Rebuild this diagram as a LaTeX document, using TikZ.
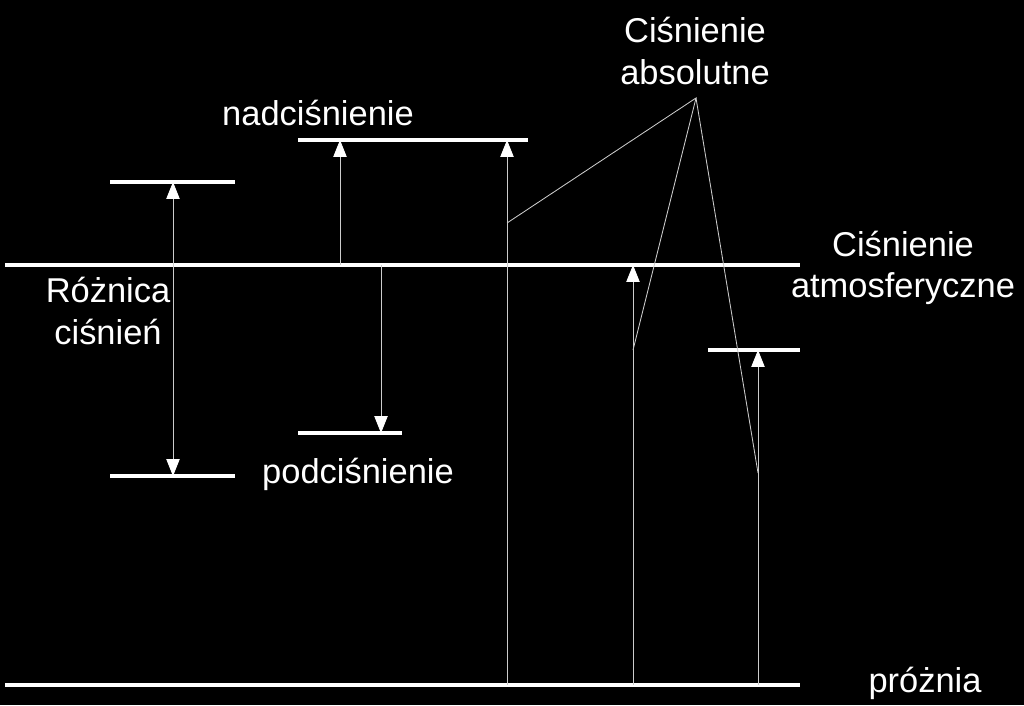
\documentclass[tikz,border=0pt]{standalone}
\usepackage{fontspec}
\setmainfont{Liberation Sans}
\usetikzlibrary{arrows.meta}
\usetikzlibrary{positioning}

\begin{document}
\begin{tikzpicture}[x=0.025cm,y=-0.025cm,
    level/.style={white,line width=2.6pt},
    thin/.style={white!80!black,line width=0.6pt},
    tip/.tip={Triangle[width=9.5pt,length=12pt,color=white]},
    label/.style={white,font=\fontsize{24.5}{29.5}\selectfont,align=center,inner sep=0pt}]
  \fill[black] (0,0) rectangle (1024,705);
  \useasboundingbox (0,0) rectangle (1024,705);

  % poziomy
  \draw[level] (5,265) coordinate(atmL) -- (800,265) coordinate(atmR);
  \draw[level] (5,685) coordinate(vacL) -- (800,685) coordinate(vacR);
  \draw[level] (110,182) coordinate(hiL) -- (235,182) coordinate(hiR);
  \draw[level] (110,476) coordinate(loL) -- (235,476) coordinate(loR);
  \draw[level] (298,140) coordinate(nadL) -- (528,140) coordinate(nadR);
  \draw[level] (298,433) coordinate(podL) -- (402,433) coordinate(podR);
  \draw[level] (708,350) coordinate(absL) -- (800,350) coordinate(absR);

  % strzalki
  \coordinate (diffT) at (173,182);
  \coordinate (diffB) at (173,476);
  \draw[thin,tip-tip] (diffB) -- (diffT);

  \coordinate (nadB) at (340,265);
  \coordinate (nadT) at (340,140);
  \draw[thin,-tip] (nadB) -- (nadT);

  \coordinate (podT) at (381,265);
  \coordinate (podB) at (381,433);
  \draw[thin,-tip] (podT) -- (podB);

  \coordinate (one) at (507,685);
  \coordinate (oneT) at (507,140);
  \draw[thin,-tip] (one) -- (oneT);

  \coordinate (two) at (633,685);
  \coordinate (twoT) at (633,265);
  \draw[thin,-tip] (two) -- (twoT);

  \coordinate (three) at (758,685);
  \coordinate (threeT) at (758,350);
  \draw[thin,-tip] (three) -- (threeT);

  % opisy
  \node[label] (roz) at (108,311) {Różnica\\ciśnień};
  \node[label] (nad) at (318,113) {nadciśnienie};
  \node[label] (pod) at (358,474) {podciśnienie};
  \node[label] (abs) at (695,51) {Ciśnienie\\absolutne};
  \node[label] (atm) at (903,268) {Ciśnienie\\atmosferyczne};
  \node[label] (pro) at (925,683) {próżnia};

  % odnosniki
  \coordinate (apex) at (696,98);
  \coordinate (oneM) at (507,223);
  \coordinate (twoM) at (633,350);
  \coordinate (threeM) at (758,473);
  \draw[thin] (oneM) -- (apex) -- (twoM);
  \draw[thin] (apex) -- (threeM);
\end{tikzpicture}
\end{document}
